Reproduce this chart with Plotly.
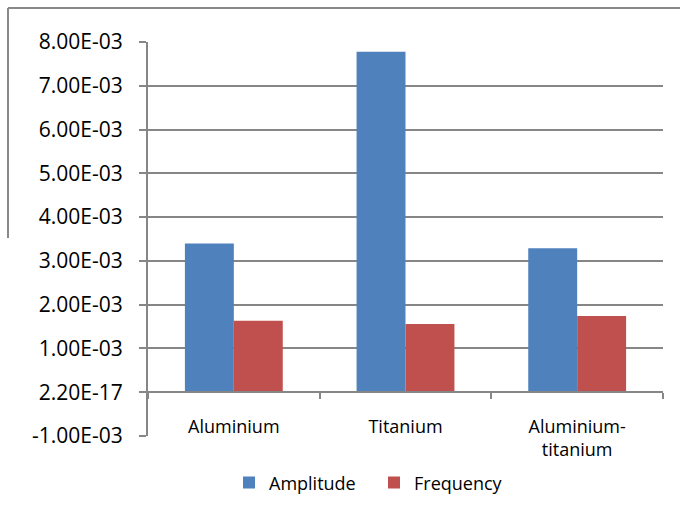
import plotly.graph_objects as go

categories = ["Aluminium", "Titanium", "Aluminium-<br>titanium"]
amplitude = [3.40e-3, 7.78e-3, 3.29e-3]
frequency = [1.63e-3, 1.56e-3, 1.74e-3]
tick_vals = [-1e-3, 0, 1e-3, 2e-3, 3e-3, 4e-3, 5e-3, 6e-3, 7e-3, 8e-3]
tick_text = ["-1.00E-03", "2.20E-17", "1.00E-03", "2.00E-03", "3.00E-03",
             "4.00E-03", "5.00E-03", "6.00E-03", "7.00E-03", "8.00E-03"]

GRID = "#868686"
FONT = "Open Sans"

fig = go.Figure()
fig.add_trace(go.Bar(x=categories, y=amplitude, name="Amplitude",
                     marker=dict(color="#4F81BD", line=dict(width=0))))
fig.add_trace(go.Bar(x=categories, y=frequency, name="Frequency",
                     marker=dict(color="#C0504D", line=dict(width=0))))

ymin, ymax = -1e-3, 8e-3

fig.update_layout(
    width=680, height=505,
    margin=dict(l=148, r=17, t=42, b=69, autoexpand=False),
    paper_bgcolor="white", plot_bgcolor="white",
    barmode="group", bargap=0.43, bargroupgap=0,
    font=dict(family=FONT, color="#000000"),
    showlegend=True,
    legend=dict(orientation="h", x=(243 - 148 - 14) / 515, xanchor="left",
                y=-0.119, yanchor="middle",
                font=dict(size=18, family=FONT), itemwidth=30, traceorder="normal",
                entrywidth=100, entrywidthmode="pixels"),
    xaxis=dict(
        type="category", anchor="free", position=(0 - ymin) / (ymax - ymin),
        showline=True, linecolor=GRID, linewidth=2,
        ticks="outside", tickson="boundaries", ticklen=6, tickcolor=GRID, tickwidth=2,
        tickfont=dict(size=18, family=FONT), showgrid=False, zeroline=False,
        ticklabelstandoff=18, automargin=False,
    ),
    yaxis=dict(
        range=[ymin, ymax], tickvals=tick_vals, ticktext=tick_text,
        showline=True, linecolor=GRID, linewidth=2,
        ticks="outside", ticklen=7, tickcolor=GRID, tickwidth=2,
        showgrid=True, gridcolor=GRID, gridwidth=2, zeroline=False,
        tickfont=dict(size=21, family=FONT), ticklabelstandoff=12, automargin=False,
    ),
)

# outer chart border fragment (top and left)
fig.add_shape(type="line", xref="paper", yref="paper",
              x0=(8 - 148) / 515, x1=(700 - 148) / 515,
              y0=(436 - 8) / 394, y1=(436 - 8) / 394,
              line=dict(color="#898989", width=2))
fig.add_shape(type="line", xref="paper", yref="paper",
              x0=(8 - 148) / 515, x1=(8 - 148) / 515,
              y0=(436 - 8) / 394, y1=(436 - 238) / 394,
              line=dict(color="#898989", width=2))

fig.write_html("out.html", config={"displayModeBar": False},
               post_script="document.body.style.margin='0';document.body.style.overflow='hidden';")
